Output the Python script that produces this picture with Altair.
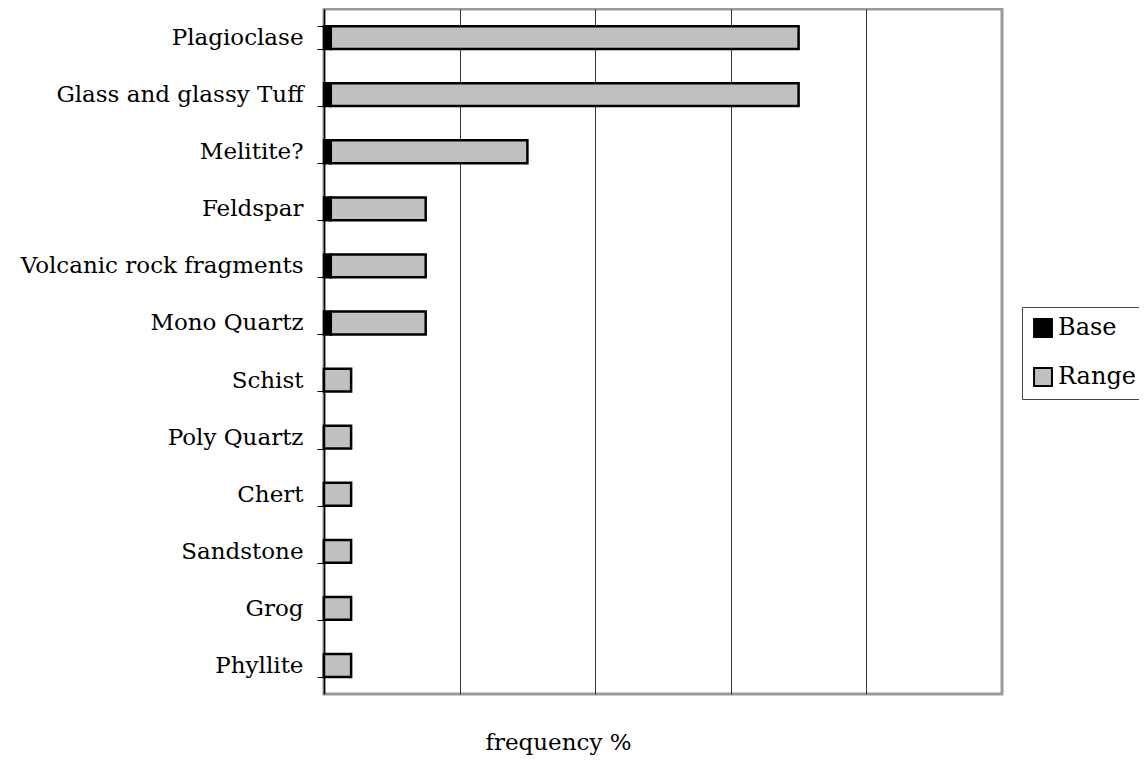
import altair as alt
import pandas as pd

minerals = ["Plagioclase", "Glass and glassy Tuff", "Melitite?", "Feldspar",
            "Volcanic rock fragments", "Mono Quartz", "Schist", "Poly Quartz",
            "Chert", "Sandstone", "Grog", "Phyllite"]
base_vals = [1, 1, 1, 1, 1, 1, 0, 0, 0, 0, 0, 0]
range_vals = [69, 69, 29, 14, 14, 14, 4, 4, 4, 4, 4, 4]
series = ["Base", "Range"]
x_grid = [20, 40, 60, 80]

rows = []
for m, b, r in zip(minerals, base_vals, range_vals):
    rows.append({"mineral": m, "series": "Base", "value": b, "ord": 0})
    rows.append({"mineral": m, "series": "Range", "value": r, "ord": 1})
df = pd.DataFrame(rows)

FONT = "DejaVu Serif"

bars = alt.Chart(df).mark_bar(stroke="black", strokeWidth=2.5).encode(
    y=alt.Y("mineral:N", sort=minerals, title=None,
            scale=alt.Scale(paddingInner=0.6, paddingOuter=0.3),
            axis=alt.Axis(domainColor="black", domainWidth=1.5, tickColor="black",
                          tickSize=7, tickBand="extent", labelFont=FONT,
                          labelFontSize=23, labelColor="black", labelPadding=14,
                          labelLimit=400)),
    x=alt.X("value:Q", stack="zero", title="frequency %",
            scale=alt.Scale(domain=[0, 100], nice=False),
            axis=alt.Axis(values=x_grid, labels=False, ticks=False, domain=False,
                          grid=True, gridColor="#333333", gridWidth=1,
                          titleFont=FONT, titleFontSize=23, titleFontWeight="normal",
                          titleColor="black", titleX=234, titleY=48,
                          titleAlign="center", titleBaseline="middle")),
    color=alt.Color("series:N", scale=alt.Scale(domain=series, range=["#000000", "#c0c0c0"]),
                    legend=alt.Legend(title=None, orient="none", legendX=698, legendY=298,
                                      symbolType="square", symbolSize=320,
                                      symbolStrokeColor="black", symbolStrokeWidth=2,
                                      labelFont=FONT, labelFontSize=24, labelColor="black",
                                      rowPadding=23, padding=9, strokeColor="#444444",
                                      labelOffset=3)),
    order=alt.Order("ord:Q"),
)

chart = bars.properties(
    width=678, height=685,
    autosize=alt.AutoSizeParams(type="none"),
    padding={"left": 316, "top": 1, "right": 137, "bottom": 61},
    background="white",
).configure_view(stroke="#999999", strokeWidth=3)

chart.save("out.html", embed_options={"renderer": "svg", "actions": False})
